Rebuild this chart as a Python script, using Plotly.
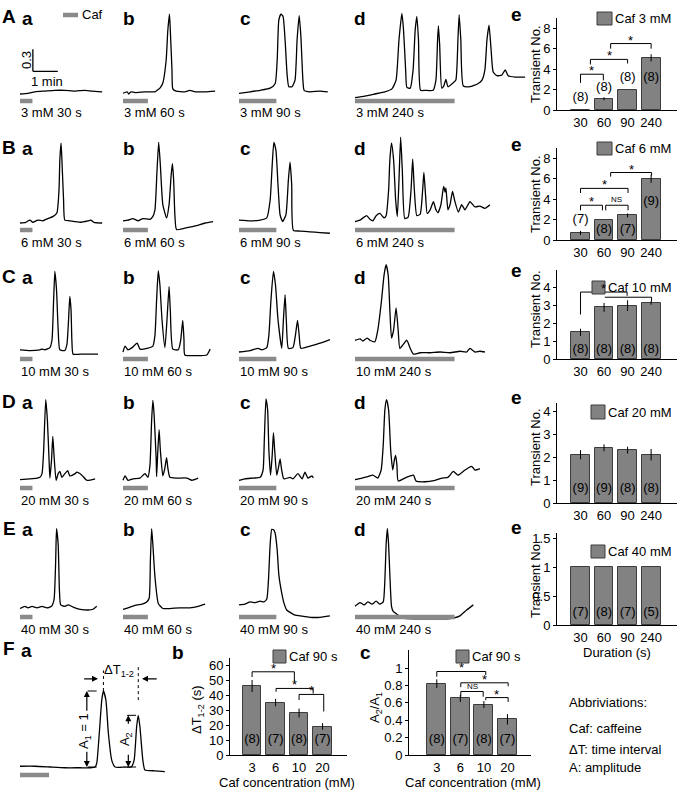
import numpy as np
import plotly.graph_objects as go

W, H = 678, 791
FONT = "Liberation Sans, Arial, sans-serif"
STIM_GRAY = "#8a8a8a"
BAR_GRAY = "#828282"
EDGE = "#3c3c3c"

# ---------------- data ----------------
concs = [3, 6, 10, 20, 40]
durations = [30, 60, 90, 240]
dur_labels = ["30", "60", "90", "240"]

# Ca2+ traces: time from caffeine onset (s) and fluorescence ratio change, one list per duration
A_t = [[0, 19, 36, 60, 84, 108, 133, 157, 173, 198],
       [0, 10, 14, 19, 29, 53, 77, 82, 89, 96, 104, 108, 112, 114, 118, 120, 128, 149, 161, 174, 198, 222],
       [0, 27, 51, 75, 87, 92, 96, 101, 106, 111, 116, 120, 128, 135, 140, 145, 149, 154, 157, 171, 195, 214],
       [0, 24, 48, 72, 89, 99, 106, 113, 117, 122, 125, 133, 140, 145, 149, 153, 158, 169, 188, 195, 199, 201,
        204, 209, 214, 219, 224, 236, 243, 248, 251, 255, 261, 277, 296, 306, 313, 318, 323, 328, 333, 342,
        354, 362, 369, 386, 410]]
A_y = [[0, 0.01, 0.03, 0.04, 0.05, 0.05, 0.04, 0.05, 0.04, 0.03],
       [0.01, 0.03, 0, 0.03, 0.02, 0.03, 0.03, 0.05, 0.08, 0.15, 0.46, 0.87, 1.09, 0.87, 0.33, 0.07, 0.04, 0.03,
        0.05, 0.03, 0.03, 0.04],
       [0.01, 0.03, 0.05, 0.08, 0.14, 0.46, 1.01, 1.09, 1.06, 0.74, 0.26, 0.10, 0.10, 0.19, 0.74, 1.07, 0.80,
        0.19, 0.05, 0.03, 0.04, 0.03],
       [-0.05, -0.03, 0, 0.03, 0.07, 0.19, 0.74, 1.10, 0.87, 0.33, 0.09, 0.08, 0.33, 0.87, 1.06, 0.74, 0.05,
        0.05, 0.05, 0.19, 0.74, 0.93, 0.67, 0.08, 0.11, 0.20, 0.10, 0.15, 0.19, 0.74, 1.08, 0.74, 0.11, 0.10,
        0.14, 0.19, 0.33, 0.74, 0.94, 0.60, 0.30, 0.25, 0.26, 0.33, 0.25, 0.23, 0.23]]

B_t = [[0, 14, 24, 31, 43, 55, 67, 80, 89, 94, 96, 99, 101, 105, 108, 120, 145, 164, 171, 178, 198],
       [0, 12, 24, 36, 48, 65, 72, 77, 82, 86, 90, 96, 105, 111, 116, 119, 122, 125, 129, 149, 174, 198, 217],
       [0, 27, 51, 67, 75, 80, 84, 89, 94, 99, 105, 113, 119, 123, 127, 131, 147, 171, 195, 219],
       [0, 12, 28, 36, 43, 51, 60, 70, 75, 81, 84, 88, 93, 98, 102, 106, 110, 114, 120, 128, 135, 139, 143, 149,
        157, 163, 166, 170, 174, 181, 189, 195, 200, 207, 212, 214, 217, 219, 224, 229, 235, 240, 249, 257,
        265, 277, 289, 301, 313, 325]]
B_y = [[0, 0.01, 0.04, 0.01, 0.04, 0.03, 0.06, 0.09, 0.14, 0.45, 0.86, 1.09, 0.86, 0.31, 0.04, 0.03, 0.01,
        0.03, 0.04, 0.01, 0],
       [0.03, 0.04, 0.06, 0.03, 0.06, 0.05, 0.09, 0.18, 0.72, 1.10, 0.79, 0.25, 0.07, 0.25, 0.65, 0.81, 0.59,
        0.11, -0.09, -0.07, -0.04, 0, 0.02],
       [0.04, 0.03, 0.04, 0.07, 0.31, 0.79, 1.10, 0.99, 0.52, 0.11, 0.02, 0.11, 0.59, 0.83, 0.52, -0.10, -0.11,
        -0.12, -0.13, -0.14],
       [0.02, 0.04, 0.10, 0.05, 0.03, 0.10, 0.13, 0.07, 0.10, 0.45, 0.86, 1.09, 0.86, 0.31, 0.09, 0.59, 1.17,
        0.72, 0.06, 0.08, 0.45, 0.87, 0.45, 0.10, 0.12, 0.45, 0.69, 0.38, 0.13, 0.18, 0.29, 0.18, 0.14, 0.25,
        0.45, 0.50, 0.42, 0.48, 0.18, 0.25, 0.43, 0.31, 0.15, 0.25, 0.18, 0.29, 0.22, 0.23, 0.20, 0.25]]

C_t = [[0, 24, 48, 53, 60, 72, 77, 81, 84, 88, 92, 96, 108, 113, 117, 120, 123, 125, 128, 145, 169, 188],
       [0, 5, 12, 22, 34, 41, 58, 72, 77, 81, 85, 89, 94, 101, 106, 111, 114, 120, 133, 139, 144, 147, 149,
        174, 202, 210],
       [0, 27, 46, 55, 67, 72, 77, 83, 88, 94, 103, 107, 111, 114, 119, 130, 136, 141, 145, 149, 171, 195, 219],
       [0, 12, 19, 29, 36, 48, 55, 64, 70, 75, 80, 84, 88, 93, 99, 104, 108, 116, 125, 133, 141, 157, 181, 205,
        229, 253, 269, 277, 289, 301, 313]]
C_y = [[0.03, 0.02, 0.03, 0.04, 0.03, 0.06, 0.16, 0.71, 1.10, 0.85, 0.30, 0.03, 0.02, 0.10, 0.44, 0.76, 0.57,
        0.16, -0.03, -0.03, -0.03, -0.03],
       [0, 0.08, 0.03, 0.06, 0.12, 0.04, 0.05, 0.08, 0.23, 0.71, 1.11, 0.91, 0.44, 0.06, 0.44, 0.89, 0.57, 0.04,
        0.03, 0.16, 0.43, 0.16, -0.04, -0.05, -0.04, 0.04],
       [0, 0.02, 0.05, 0.03, 0.06, 0.23, 0.71, 1.10, 0.91, 0.44, 0.05, 0.44, 0.78, 0.44, 0.05, 0.06, 0.23, 0.43,
        0.23, 0.05, 0.08, 0.12, 0.17],
       [0.16, 0.18, 0.15, 0.19, 0.16, 0.14, 0.30, 0.71, 1.05, 1.19, 1.05, 0.57, 0.19, 0.30, 0.60, 0.30, 0.05,
        0.10, 0.16, 0.05, -0.03, -0.01, -0.01, 0, -0.01, 0.01, 0, 0.05, 0, 0.01, 0]]

D_t = [[0, 24, 41, 48, 53, 57, 62, 66, 70, 72, 76, 79, 82, 87, 92, 96, 101, 108, 115, 120, 133, 137, 149, 161,
        181],
       [0, 5, 12, 24, 41, 53, 60, 65, 69, 72, 75, 80, 81, 84, 87, 90, 96, 101, 105, 108, 113, 130, 154, 166, 181],
       [0, 14, 34, 51, 58, 61, 65, 69, 72, 76, 80, 83, 86, 91, 95, 99, 102, 108, 123, 130, 142, 152, 159, 166,
        176, 179],
       [0, 17, 31, 43, 55, 63, 68, 72, 76, 81, 86, 91, 95, 98, 101, 104, 120, 133, 141, 147, 169, 193, 210, 224,
        237, 248, 265, 281, 289, 301]]
D_y = [[0.02, 0.03, 0.04, 0.05, 0.10, 0.42, 1.11, 0.83, 0.29, 0.04, 0.29, 0.61, 0.35, 0.01, 0.10, 0.13, 0.05,
        0.10, 0.14, 0.07, 0.10, 0.12, 0.08, 0.01, 0.03],
       [0.01, 0.07, 0.01, 0.03, 0.04, 0.10, 0.05, 0.22, 0.83, 1.10, 0.90, 0.29, 0.06, 0.42, 0.70, 0.42, 0.07,
        0.18, 0.32, 0.18, 0.05, 0.04, 0.04, 0.01, 0.04],
       [0.01, 0.03, 0.04, 0.05, 0.15, 0.56, 1.12, 0.97, 0.42, 0.08, 0.35, 0.66, 0.42, 0.08, 0.18, 0.30, 0.18,
        0.03, 0.05, 0.03, 0.10, 0.03, 0.12, 0.04, 0.07, 0.04],
       [0.02, 0.04, 0.06, 0.08, 0.04, 0.15, 0.49, 0.97, 1.11, 0.97, 0.42, 0.15, 0.29, 0.35, 0.22, 0, 0.04, 0.07,
        0.08, 0, -0.01, 0.01, 0.04, 0.05, 0.13, 0.08, 0.15, 0.20, 0.15, 0.17]]

E_t = [[0, 12, 19, 29, 41, 53, 65, 76, 82, 86, 88, 92, 95, 98, 108, 116, 128, 145, 164, 176, 185],
       [0, 12, 22, 34, 46, 57, 63, 66, 69, 72, 77, 85, 96, 113, 137, 161, 181, 198],
       [0, 14, 27, 39, 51, 60, 67, 71, 75, 79, 84, 87, 92, 96, 103, 108, 115, 125, 135, 147, 171, 195, 219],
       [0, 12, 22, 31, 41, 51, 60, 68, 72, 75, 78, 81, 84, 88, 92, 104, 116, 145, 181, 221, 237, 253, 269, 285]]
E_y = [[0.02, 0.05, 0.03, 0.05, 0.03, 0.05, 0.03, 0.05, 0.14, 0.68, 1.11, 0.89, 0.27, 0.07, 0.05, 0.07, 0.04,
        0.01, 0, 0.01, 0.05],
       [0.01, 0.03, 0.05, 0.07, 0.08, 0.11, 0.16, 0.68, 1.11, 0.89, 0.45, 0.09, 0.02, 0.02, 0.03, 0.03, 0.05,
        0.08],
       [0.07, 0.08, 0.11, 0.10, 0.12, 0.11, 0.15, 0.41, 0.89, 1.10, 1.09, 1.05, 0.82, 0.48, 0.23, 0.10, 0,
        -0.04, -0.07, -0.08, -0.10, -0.10, -0.08],
       [0.05, 0.10, 0.07, 0.11, 0.08, 0.12, 0.08, 0.11, 0.41, 0.89, 1.11, 0.89, 0.48, 0.05, -0.02, -0.07, -0.11,
        -0.12, -0.12, -0.12, -0.11, -0.08, 0, 0.07]]

# schematic trace for F a (amplitude normalised to first peak)
F_t = [0, 36, 72, 108, 145, 169, 181, 185, 191, 197, 201, 207, 213, 221, 229, 253, 268, 275, 281, 285, 289,
       296, 301, 325, 349]
F_y = [0.01, 0.01, 0, -0.01, -0.01, -0.01, 0, 0.05, 0.44, 0.88, 1.0, 0.88, 0.44, 0.09, 0, 0, 0, 0.09, 0.53,
       0.68, 0.53, 0.09, -0.04, -0.05, -0.06]
F_stim = 70

# transient numbers (mean, SEM, n) per caffeine concentration
trans_mean = [[0, 1.1, 2.0, 5.1], [0.7, 2.0, 2.4, 6.0], [1.5, 2.9, 3.0, 3.15], [2.1, 2.4, 2.3, 2.1], [1, 1, 1, 1]]
trans_sem = [[0, 0.15, 0, 0.35], [0.2, 0, 0.2, 0.4], [0.2, 0.25, 0.3, 0.1], [0.2, 0.15, 0.15, 0.25], [0, 0, 0, 0]]
trans_n = [[8, 8, 8, 8], [7, 8, 7, 9], [8, 8, 8, 8], [9, 9, 8, 8], [7, 8, 7, 5]]

conc_labels = ["3", "6", "10", "20"]
dT_mean = [46, 35, 28, 19]
dT_sem = [4, 2.5, 3, 2.2]
dT_n = [8, 7, 8, 7]
ratio_mean = [0.82, 0.65, 0.58, 0.41]
ratio_sem = [0.05, 0.04, 0.04, 0.06]
ratio_n = [8, 7, 8, 7]

# ---------------- layout helpers ----------------
S = 0.415   # px per second in trace panels
K = 73.3    # px per unit in trace panels
COL_X = [20, 123, 239, 355]
BAR_Y = [101, 230, 359, 488, 617]
ROW_Y = [17, 147, 276, 401, 528]

fig = go.Figure()
layout = {}
annotations = []
shapes = []


def aid(n):
    return "" if n == 1 else str(n)


def note(text, x, y, size=13, xanchor="center", yanchor="middle", angle=0, bold=False):
    annotations.append(dict(text=f"<b>{text}</b>" if bold else text, x=x / W, y=1 - y / H,
                            xref="paper", yref="paper", showarrow=False, xanchor=xanchor,
                            yanchor=yanchor, textangle=angle,
                            font=dict(size=size, family=FONT, color="black")))


def hidden_axes(n, xdom, ydom, xr, yr):
    i = aid(n)
    layout[f"xaxis{i}"] = dict(domain=[xdom[0] / W, xdom[1] / W], range=xr, visible=False,
                               anchor=f"y{i}", fixedrange=True)
    layout[f"yaxis{i}"] = dict(domain=[1 - ydom[1] / H, 1 - ydom[0] / H], range=yr, visible=False,
                               anchor=f"x{i}", fixedrange=True)
    return f"x{i}", f"y{i}"


TRACE_LINE = dict(color="black", width=1.3, shape="spline", smoothing=0.5)

# ---------------- trace panels (rows A-E) ----------------
rows = [(A_t, A_y), (B_t, B_y), (C_t, C_y), (D_t, D_y), (E_t, E_y)]
n = 0
for r, (ts, ys) in enumerate(rows):
    base = BAR_Y[r] - 7
    for c in range(4):
        n += 1
        t, y = ts[c], ys[c]
        T = t[-1]
        x0 = COL_X[c]
        xa, ya = hidden_axes(n, (x0 - 3, x0 + T * S + 3), (base - 90, base + 14),
                             [-3 / S, T + 3 / S], [-14 / K, 90 / K])
        fig.add_trace(go.Scatter(x=t, y=y, mode="lines", line=TRACE_LINE,
                                 xaxis=xa, yaxis=ya, hoverinfo="skip"))
        fig.add_trace(go.Scatter(x=[0, durations[c]], y=[-7 / K, -7 / K], mode="lines",
                                 line=dict(color=STIM_GRAY, width=4.5), xaxis=xa, yaxis=ya,
                                 hoverinfo="skip"))
        note(f"{concs[r]} mM {durations[c]} s", x0 - 1, BAR_Y[r] + 12, xanchor="left")
        note("abcd"[c], [27, 129, 245, 360][c], ROW_Y[r] + 1, size=19, bold=True)
        if r == 0 and c == 0:
            # scale bar: 0.3 ratio / 1 min
            sx, sy = 31, 0.31
            shapes.append(dict(type="line", xref=xa, yref=ya, x0=sx, x1=sx, y0=sy, y1=sy + 0.3,
                               line=dict(color="black", width=1.3)))
            shapes.append(dict(type="line", xref=xa, yref=ya, x0=sx, x1=sx + 60, y0=sy, y1=sy,
                               line=dict(color="black", width=1.3)))
    note("ABCDE"[r], 9, ROW_Y[r], size=19, bold=True)

note("0.3", 27, 60, angle=-90)
note("1 min", 47, 82)
shapes.append(dict(type="line", xref="paper", yref="paper", x0=63 / W, x1=78 / W, y0=1 - 15 / H,
                   y1=1 - 15 / H, line=dict(color=STIM_GRAY, width=4.5)))
note("Caf", 80, 15, xanchor="left")

# ---------------- F a schematic ----------------
n = 21
base = 767
KF = 76
xa, ya = hidden_axes(n, (20 - 3, 20 + F_t[-1] * S + 3), (base - 127, base + 14),
                     [-3 / S, F_t[-1] + 3 / S], [-14 / KF, 127 / KF])
fig.add_trace(go.Scatter(x=F_t, y=F_y, mode="lines", line=TRACE_LINE,
                         xaxis=xa, yaxis=ya, hoverinfo="skip"))
fig.add_trace(go.Scatter(x=[0, F_stim], y=[-8 / KF, -8 / KF], mode="lines",
                         line=dict(color=STIM_GRAY, width=4.5), xaxis=xa, yaxis=ya, hoverinfo="skip"))
Fy = np.array(F_y)
Ft = np.array(F_t)
i1 = int(np.argmax(Fy))
i2 = int(np.argmax(np.where(Ft > 250, Fy, -1)))
t1, a1, t2, a2 = Ft[i1], Fy[i1], Ft[i2], Fy[i2]
dash = dict(color="black", width=1, dash="dash")
dot = dict(color="black", width=1, dash="dot")
for (xx0, xx1, yy) in [(t1 - 38, t1, a1), (t1 - 38, t1, 0), (t2 - 27, t2, a2), (t2 - 27, t2 + 5, 0)]:
    shapes.append(dict(type="line", xref=xa, yref=ya, x0=xx0, x1=xx1, y0=yy, y1=yy, line=dash))
shapes.append(dict(type="line", xref=xa, yref=ya, x0=t1, x1=t1, y0=a1, y1=1.27, line=dot))
shapes.append(dict(type="line", xref=xa, yref=ya, x0=t2, x1=t2, y0=0.88, y1=1.35, line=dot))


def arrow(x, y, ax, ay):
    annotations.append(dict(x=x, y=y, ax=ax, ay=ay, xref=xa, yref=ya, axref=xa, ayref=ya, text="",
                            showarrow=True, arrowhead=2, arrowsize=1, arrowwidth=1.2,
                            arrowcolor="black"))


arrow(t1 - 13, 1.16, t1 - 50, 1.16)
arrow(t2 + 9, 1.16, t2 + 48, 1.16)
arrow(t1 - 40, a1, t1 - 40, 0.72)
arrow(t1 - 40, 0, t1 - 40, 0.22)
arrow(t2 - 24, a2, t2 - 24, 0.55)
arrow(t2 - 24, 0, t2 - 24, 0.18)
annotations.append(dict(text="ΔT<sub>1-2</sub>", x=(t1 + t2) / 2 - 5, y=1.27, xref=xa, yref=ya,
                        showarrow=False, font=dict(size=13, family=FONT, color="black")))
annotations.append(dict(text="A<sub>1</sub> = 1", x=t1 - 45, y=0.47, xref=xa, yref=ya, textangle=-90,
                        showarrow=False, font=dict(size=13, family=FONT, color="black")))
annotations.append(dict(text="A<sub>2</sub>", x=t2 - 29, y=0.37, xref=xa, yref=ya, textangle=-90,
                        showarrow=False, font=dict(size=13, family=FONT, color="black")))
note("F", 9, 648, size=19, bold=True)
note("a", 26, 650, size=19, bold=True)


# ---------------- bar panels ----------------
def bar_panel(n, xdom, xr, ydom, yr, yticks, cats, vals, errs, ns, nlab_y, sig, legend_text, leg):
    i = aid(n)
    xs = list(range(len(cats)))
    layout[f"xaxis{i}"] = dict(domain=[xdom[0] / W, xdom[1] / W], range=xr, anchor=f"y{i}",
                               showline=True, linecolor="black", linewidth=1, ticks="",
                               tickvals=xs, ticktext=cats, showgrid=False, zeroline=False,
                               tickfont=dict(size=13, color="black"), fixedrange=True)
    layout[f"yaxis{i}"] = dict(domain=[1 - ydom[1] / H, 1 - ydom[0] / H], range=yr, anchor=f"x{i}",
                               showline=True, linecolor="black", linewidth=1, ticks="outside",
                               ticklen=3, tickcolor="black", tickvals=yticks, showgrid=False,
                               zeroline=False, tickfont=dict(size=13, color="black"), fixedrange=True)
    err = dict(type="data", array=errs, color="black", thickness=1, width=0, visible=any(errs))
    fig.add_trace(go.Bar(x=xs, y=vals, width=0.8, error_y=err,
                         marker=dict(color=BAR_GRAY, line=dict(color=EDGE, width=1)),
                         xaxis=f"x{i}", yaxis=f"y{i}", hoverinfo="skip"))
    fig.add_trace(go.Scatter(x=xs, y=nlab_y, mode="text", text=[f"({k})" for k in ns],
                             textfont=dict(size=13, family=FONT, color="black"),
                             xaxis=f"x{i}", yaxis=f"y{i}", hoverinfo="skip"))
    for (xl, xrr, yb, dl, dr, lab) in sig:
        fig.add_trace(go.Scatter(x=[xl, xl, xrr, xrr], y=[dl, yb, yb, dr], mode="lines",
                                 line=dict(color="black", width=1), xaxis=f"x{i}", yaxis=f"y{i}",
                                 hoverinfo="skip"))
        if lab:
            annotations.append(dict(text=lab, x=(xl + xrr) / 2, y=yb, xref=f"x{i}", yref=f"y{i}",
                                    showarrow=False, yanchor="bottom",
                                    yshift=-6 if lab == "*" else -1,
                                    font=dict(size=13 if lab == "*" else 8, family=FONT, color="black")))
    lx0, ly0, lx1, ly1 = leg
    shapes.append(dict(type="rect", xref="paper", yref="paper", x0=lx0 / W, x1=lx1 / W,
                       y0=1 - ly1 / H, y1=1 - ly0 / H, fillcolor=BAR_GRAY,
                       line=dict(color=EDGE, width=1)))
    note(legend_text, lx1 + 1, (ly0 + ly1) / 2, xanchor="left")


E_XDOM = (557, 677)
E_XR = [-1, 4.1]
E_YDOM = [(18, 110), (148, 240), (270, 359), (403, 503), (533, 625)]
E_YMAX = [9, 9, 5.0, 4.35, 1.59]
E_TICKS = [[0, 2, 4, 6, 8], [0, 2, 4, 6, 8], [0, 1, 2, 3, 4], [0, 1, 2, 3, 4], [0, 0.5, 1, 1.5]]
E_NLAB = [[1.15, 2.2, 3.2, 3.2], [1.95, 1.0, 1.0, 3.7], [0.5] * 4, [0.6] * 4, [0.21] * 4]
E_SIG = [
    [(0, 0.97, 3.5, 2.65, 2.9, "*"), (0.42, 2, 4.95, 4.45, 4.55, "*"), (1.28, 3, 6.5, 6.0, 6.0, "*")],
    [(0, 0.93, 3.4, 2.9, 2.9, "*"), (1.07, 2.02, 3.4, 2.9, 2.9, "NS"), (0, 2.02, 5.05, 4.6, 4.6, "*"),
     (1.28, 3.02, 6.6, 6.2, 6.3, "*")],
    [(0, 1.98, 3.76, 2.5, 3.55, "*"), (1.03, 3.02, 3.47, 3.47, 3.23, "")],
    [], [],
]
E_LEG = [(597, 12, 612, 25), (597, 142, 612, 155), (592, 281, 605, 294), (591, 405, 605, 419),
         (591, 545, 605, 558)]
E_LABEL_Y = [15, 144, 270, 398, 527]
E_TITLE_Y = [64, 194, 309, 447, 579]

for r in range(5):
    bar_panel(22 + r, E_XDOM, E_XR, E_YDOM[r], [0, E_YMAX[r]], E_TICKS[r], dur_labels,
              trans_mean[r], trans_sem[r], trans_n[r], E_NLAB[r], E_SIG[r], f"Caf {concs[r]} mM",
              E_LEG[r])
    note("e", 516, E_LABEL_Y[r], size=19, bold=True)
    note("Transient No.", 535, E_TITLE_Y[r], angle=-90)
note("Duration (s)", 617, 652)

bar_panel(27, (230, 347), [-0.94, 4.04], (658, 755), [0, 64.7], [0, 10, 20, 30, 40, 50, 60],
          conc_labels, dT_mean, dT_sem, dT_n, [10] * 4,
          [(0, 1.8, 55.5, 52, 49, "*"), (1.02, 2.6, 44.4, 42.2, 41, "*"), (2.0, 3.05, 40.4, 36.7, 29, "*")],
          "Caf 90 s", (273, 650, 286, 663))
note("b", 178, 652, size=19, bold=True)
note("ΔT<sub>1-2</sub> (s)", 197, 710, angle=-90)
note("Caf concentration (mM)", 287, 782)

bar_panel(28, (409, 531), [-1.18, 4.0], (650, 755), [0, 1.207], [0, 0.2, 0.4, 0.6, 0.8, 1],
          conc_labels, ratio_mean, ratio_sem, ratio_n, [0.17] * 4,
          [(0, 2.08, 0.96, 0.90, 0.92, "*"), (1.02, 3.03, 0.83, 0.78, 0.79, "*"),
           (1.02, 1.97, 0.73, 0.67, 0.67, "NS"), (2.08, 3.03, 0.66, 0.63, 0.61, "*")],
          "Caf 90 s", (456, 650, 469, 663))
note("c", 365, 652, size=19, bold=True)
note("A<sub>2</sub>/A<sub>1</sub>", 375, 708, angle=-90)
note("Caf concentration (mM)", 473, 782)

note("Abbriviations:", 567, 702, xanchor="left")
note("Caf: caffeine", 567, 728, xanchor="left")
note("ΔT: time interval", 567, 749, xanchor="left")
note("A: amplitude", 567, 767, xanchor="left")

fig.update_layout(**layout)
fig.update_layout(template="none", width=W, height=H, margin=dict(l=0, r=0, t=0, b=0, pad=0),
                  showlegend=False, plot_bgcolor="white", paper_bgcolor="white", bargap=0,
                  font=dict(family=FONT, size=13, color="black"),
                  annotations=annotations, shapes=shapes)
PAGE_FIX = (
    "document.documentElement.style.margin='0';"
    "document.documentElement.style.overflow='hidden';"
    "document.body.style.margin='0';"
    "document.body.style.overflow='hidden';"
    "var g=document.getElementsByClassName('plotly-graph-div')[0];"
    "g.style.position='fixed';g.style.left='0px';g.style.top='0px';"
)
fig.write_html("out.html", config={"displayModeBar": False}, post_script=PAGE_FIX)
